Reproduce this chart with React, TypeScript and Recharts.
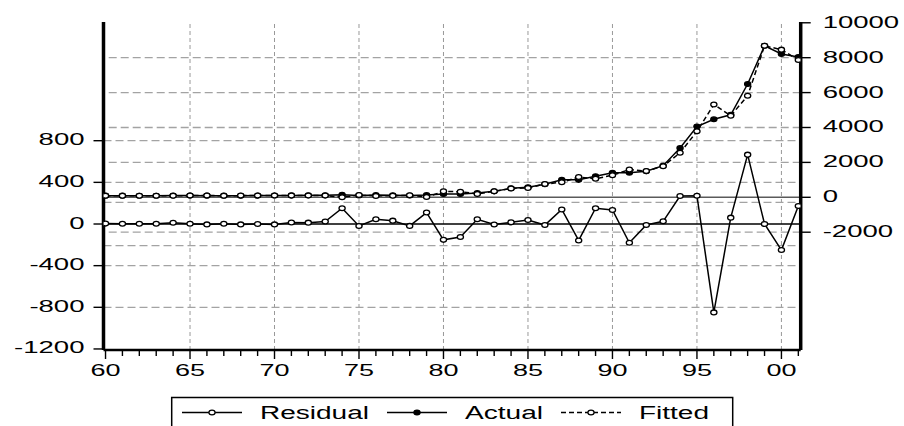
import React from "react";
import { ComposedChart, Line, XAxis, YAxis, ReferenceLine } from "recharts";

const years = [
  1960, 1961, 1962, 1963, 1964, 1965, 1966, 1967, 1968, 1969, 1970, 1971, 1972, 1973,
  1974, 1975, 1976, 1977, 1978, 1979, 1980, 1981, 1982, 1983, 1984, 1985, 1986, 1987,
  1988, 1989, 1990, 1991, 1992, 1993, 1994, 1995, 1996, 1997, 1998, 1999, 2000, 2001,
];

const residual = [
  4, 2, 2, 2, 12, 2, -4, 2, -4, 0, -4, 14, 13, 24,
  151, -19, 46, 32, -18, 110, -152, -125, 45, -5, 16, 38, -10, 140,
  -158, 152, 135, -180, -10, 26, 269, 272, -849, 61, 666, 0, -250, 173,
];

const actual = [
  95, 95, 92, 92, 98, 100, 95, 95, 92, 98, 100, 110, 112, 120,
  150, 110, 125, 118, 100, 125, 190, 195, 240, 340, 520, 580, 750, 1000,
  1000, 1210, 1400, 1410, 1490, 1810, 2820, 4050, 4470, 4730, 6490, 8680, 8210, 8040,
];

const fitted = [
  92, 93, 90, 90, 86, 98, 99, 93, 96, 98, 104, 96, 99, 96,
  0, 130, 80, 86, 118, 15, 340, 320, 195, 345, 505, 540, 760, 860,
  1160, 1060, 1265, 1590, 1500, 1785, 2550, 3780, 5320, 4670, 5820, 8680, 8460, 7870,
];

const leftTicks = [-1200, -800, -400, 0, 400, 800];
const rightTicks = [-2000, 0, 2000, 4000, 6000, 8000, 10000];
const leftGrid = [-800, -400, 400, 800];
const rightGrid = [-2000, 2000, 4000, 6000, 8000];
const seBand = [-207, 207];
const gridYears = [1965, 1970, 1975, 1980, 1985, 1990, 1995, 2000];

const data = years.map((year, i) => ({
  year,
  residual: residual[i],
  actual: actual[i],
  fitted: fitted[i],
}));

const FONT = "'Liberation Sans', Arial, sans-serif";

// EViews graph is stretched sideways, so labels get a forced width
const labelWidth = (s: string, digit: number) =>
  s.split("").reduce((w, c) => w + (c === "-" ? digit * 0.6 : digit), 0);

const LeftTick = (props: any) => {
  const { x, y, payload } = props;
  const label = String(payload.value);
  const w = labelWidth(label, 15.3);
  return (
    <text x={x - w} y={y + 4.5} fontSize={16} fontFamily={FONT} fill="#000"
      textLength={w} lengthAdjust="spacingAndGlyphs">
      {label}
    </text>
  );
};

const RightTick = (props: any) => {
  const { x, y, payload } = props;
  const label = String(payload.value);
  const w = labelWidth(label, 15.3);
  return (
    <text x={x} y={y + 5} fontSize={16} fontFamily={FONT} fill="#000"
      textLength={w} lengthAdjust="spacingAndGlyphs">
      {label}
    </text>
  );
};

const YearTick = (props: any) => {
  const { x, y, payload } = props;
  const yr = Number(payload.value);
  const major = yr % 5 === 0;
  const label = String(yr).slice(2);
  return (
    <g>
      <line x1={x} y1={y} x2={x} y2={y + (major ? 9 : 6)} stroke="#000" strokeWidth={1.4} />
      {major && (
        <text x={x - 15} y={y + 26} fontSize={16} fontFamily={FONT} fill="#000"
          textLength={30} lengthAdjust="spacingAndGlyphs">
          {label}
        </text>
      )}
    </g>
  );
};

const openDot = (p: any) => (
  <ellipse key={`o-${p.dataKey}-${p.index}`} cx={p.cx} cy={p.cy} rx={3.1} ry={2.4}
    fill="#fff" stroke="#000" strokeWidth={1.3} />
);

const filledDot = (p: any) => (
  <ellipse key={`f-${p.index}`} cx={p.cx} cy={p.cy} rx={3.1} ry={2.4}
    fill="#000" stroke="#000" strokeWidth={1.3} />
);

const gridProps = { stroke: "#a3a3a3", strokeWidth: 1.3, strokeDasharray: "8 4" };

// legend entries: symbol start x, text start x, text width
const legendItems = [
  { name: "Residual", x: 182, tx: 260, tw: 109, fill: "#fff", dash: undefined },
  { name: "Actual", x: 387, tx: 465, tw: 78, fill: "#000", dash: undefined },
  { name: "Fitted", x: 561, tx: 639, tw: 70, fill: "#fff", dash: "5 3" },
];

const Legend = () => (
  <svg width={904} height={426} style={{ position: "absolute", left: 0, top: 0, pointerEvents: "none" }}>
    <rect x={171.7} y={397.5} width={561} height={40} fill="#fff" stroke="#000" strokeWidth={1.5} />
    {legendItems.map((it) => (
      <g key={it.name}>
        <line x1={it.x} y1={412.5} x2={it.x + 60} y2={412.5} stroke="#000" strokeWidth={1.4}
          strokeDasharray={it.dash} />
        <ellipse cx={it.x + 30} cy={412.5} rx={3.1} ry={2.4} fill={it.fill} stroke="#000" strokeWidth={1.3} />
        <text x={it.tx} y={418.5} fontSize={18} fontFamily={FONT} textLength={it.tw}
          lengthAdjust="spacingAndGlyphs">
          {it.name}
        </text>
      </g>
    ))}
  </svg>
);

export default function App() {
  return (
    <div style={{ position: "absolute", left: 0, top: 0, width: 904, height: 426, background: "#fff" }}>
      <ComposedChart width={904} height={426} data={data} margin={{ top: 22, right: 0, bottom: 0, left: 0 }}>
        <XAxis
          dataKey="year"
          type="number"
          domain={[1959.88, 2001.14]}
          ticks={years}
          interval={0}
          height={76}
          tickSize={0}
          tickMargin={0}
          tickLine={false}
          tick={<YearTick />}
          axisLine={{ stroke: "#000", strokeWidth: 2.5 }}
          allowDataOverflow
        />
        <YAxis
          yAxisId="left"
          orientation="left"
          width={103.5}
          domain={[-1210, 1940]}
          ticks={leftTicks}
          interval={0}
          tickSize={10}
          tickMargin={9}
          tickLine={{ stroke: "#000", strokeWidth: 1.4 }}
          tick={<LeftTick />}
          axisLine={{ stroke: "#000", strokeWidth: 3.5 }}
          allowDataOverflow
        />
        <YAxis
          yAxisId="right"
          orientation="right"
          width={103.3}
          domain={[-8750, 10045]}
          ticks={rightTicks}
          interval={0}
          tickSize={10}
          tickMargin={12}
          tickLine={{ stroke: "#000", strokeWidth: 1.4 }}
          tick={<RightTick />}
          axisLine={{ stroke: "#000", strokeWidth: 3.5 }}
          allowDataOverflow
        />

        {gridYears.map((yr) => (
          <ReferenceLine key={`v-${yr}`} x={yr} yAxisId="left" stroke="#999" strokeWidth={1} strokeDasharray="4 3" />
        ))}
        {rightGrid.map((v) => (
          <ReferenceLine key={`r-${v}`} y={v} yAxisId="right" {...gridProps} />
        ))}
        {leftGrid.map((v) => (
          <ReferenceLine key={`l-${v}`} y={v} yAxisId="left" {...gridProps} />
        ))}
        {seBand.map((v) => (
          <ReferenceLine key={`se-${v}`} y={v} yAxisId="left" {...gridProps} />
        ))}
        <ReferenceLine y={0} yAxisId="right" stroke="#5a5a5a" strokeWidth={1.6} />
        <ReferenceLine y={0} yAxisId="left" stroke="#000" strokeWidth={1.3} />

        <Line yAxisId="left" type="linear" dataKey="residual" stroke="#000" strokeWidth={1.5}
          dot={openDot} isAnimationActive={false} />
        <Line yAxisId="right" type="linear" dataKey="actual" stroke="#000" strokeWidth={1.5}
          dot={filledDot} isAnimationActive={false} />
        <Line yAxisId="right" type="linear" dataKey="fitted" stroke="#000" strokeWidth={1.5}
          strokeDasharray="5 3" dot={openDot} isAnimationActive={false} />
      </ComposedChart>
      <Legend />
    </div>
  );
}
